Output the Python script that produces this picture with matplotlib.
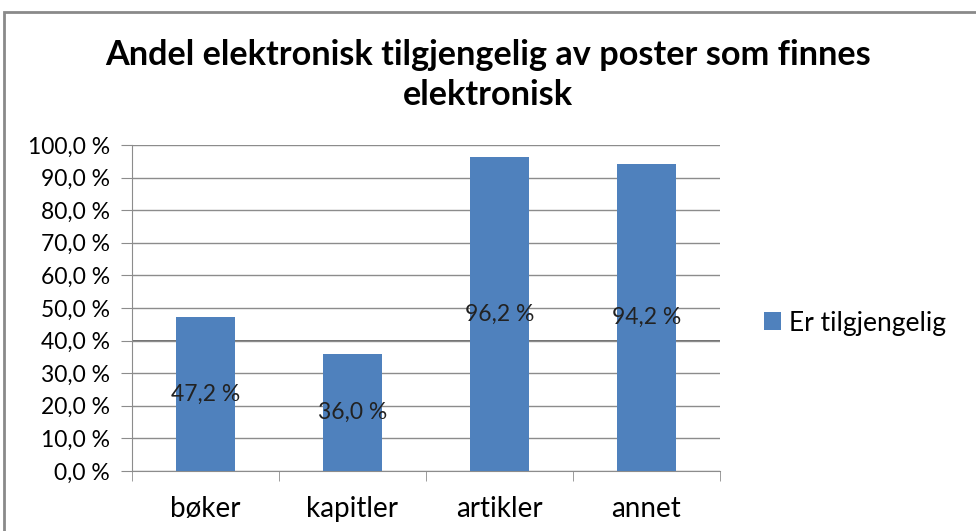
"""Bar chart: share of items available electronically"""
import matplotlib.pyplot as plt
from matplotlib.patches import Rectangle
from matplotlib.ticker import FuncFormatter, MultipleLocator

categories = ["bøker", "kapitler", "artikler", "annet"]
values = [47.2, 36.0, 96.2, 94.2]
series_name = "Er tilgjengelig"
title = "Andel elektronisk tilgjengelig av poster som finnes\nelektronisk"

BLUE = "#4F81BD"
GRID = "#8c8c8c"


def pct(v, _pos=None):
    """Format a number the Norwegian way, e.g. 47,2 %"""
    return f"{v:.1f}".replace(".", ",") + " %"


def main():
    """Draw the chart and save it"""
    plt.rcParams["font.family"] = ["Lato", "DejaVu Sans"]
    fig = plt.figure(figsize=(9.76, 5.31), dpi=100)

    # outer chart frame, cut off at right and bottom like the source
    fig.patches.append(Rectangle((4 / 976, -0.1), 1.2, 1 - 12 / 531 + 0.1,
                                 transform=fig.transFigure, fill=False,
                                 edgecolor="#8a8a8a", linewidth=2))

    ax = fig.add_axes([132 / 976, 1 - 471 / 531, 588 / 976, 326 / 531])
    x = range(len(categories))
    bars = ax.bar(x, values, width=0.395, color=BLUE, zorder=3,
                  label=series_name)

    for bar, v in zip(bars, values):
        ax.text(bar.get_x() + bar.get_width() / 2, v / 2, pct(v),
                ha="center", va="center", fontsize=16.5, color="#222222",
                zorder=4)

    ax.set_xlim(-0.5, len(categories) - 0.5)
    ax.set_ylim(0, 100)
    ax.yaxis.set_major_locator(MultipleLocator(10))
    ax.yaxis.set_major_formatter(FuncFormatter(pct))
    ax.set_xticks(list(x))
    ax.set_xticklabels(categories, fontsize=20)
    ax.set_xticks([i - 0.5 for i in range(len(categories) + 1)], minor=True)
    ax.tick_params(axis="x", which="major", length=0, pad=18)
    ax.tick_params(axis="x", which="minor", length=7, color=GRID)
    ax.tick_params(axis="y", length=8, color=GRID, labelsize=16.5, pad=8)

    ax.grid(axis="y", color=GRID, linewidth=1, zorder=0)
    ax.axhline(40, color="#6e6e6e", linewidth=1.4, zorder=1)
    for side in ("top", "right"):
        ax.spines[side].set_visible(False)
    for side in ("left", "bottom"):
        ax.spines[side].set_color(GRID)

    fig.text(0.5, 1 - 75 / 531, title, ha="center", va="center",
             fontsize=24.7, fontweight="bold", linespacing=1.3)

    fig.legend(loc="center left", bbox_to_anchor=(764 / 976, 1 - 323 / 531),
               frameon=False, fontsize=19, handlelength=0.65,
               handleheight=0.65, handletextpad=0.3, borderpad=0,
               borderaxespad=0)

    fig.savefig("out.png", dpi=100)


if __name__ == "__main__":
    main()
